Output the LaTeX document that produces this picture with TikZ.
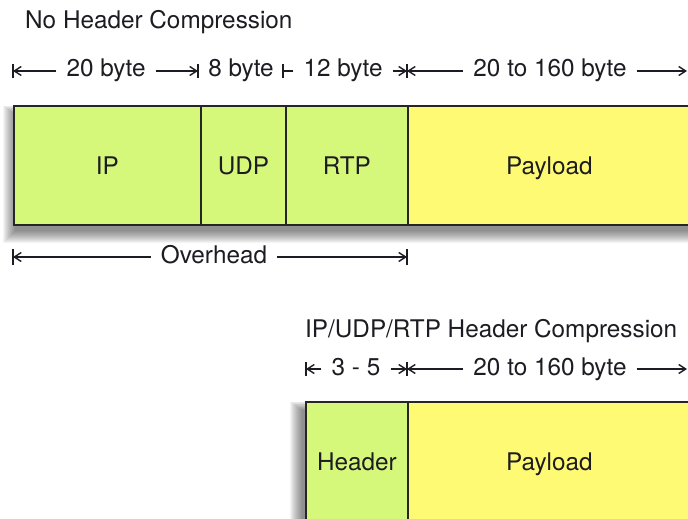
\documentclass[tikz,border=0pt]{standalone}
\usepackage{fontspec}
\setmainfont{TeX Gyre Heros}
\usetikzlibrary{arrows.meta}
\definecolor{boxgreen}{RGB}{214,248,122}
\definecolor{boxyellow}{RGB}{255,250,115}
\definecolor{ink}{RGB}{28,28,34}
\begin{document}
\begin{tikzpicture}[x=1pt,y=-1pt,
  lbl/.style={font=\fontsize{24.3}{28}\selectfont, text=ink, inner sep=0pt},
  dimtext/.style={lbl, inner xsep=10pt, anchor=base},
  titletext/.style={lbl, anchor=base west},
  cell/.style={draw=black!85, line width=1.8pt, anchor=north west, minimum height=119pt,
    lbl, text height=17.4pt, text depth=0pt},
  dimline/.style={line width=1.4pt, draw=ink},
  dimarrow/.style={dimline, -{Straight Barb[length=7pt,width=9pt,line width=1.4pt]}},
  shadowlayer/.style={fill=black, opacity=0.045},
  ]
\useasboundingbox (0,0) rectangle (688,519);
\clip (0,0) rectangle (688,519);

% ---------- titles ----------
\node[titletext] (title1) at (25,29) {No Header Compression};
\node[titletext] (title2) at (305,337) {IP/UDP/RTP Header Compression};

% ---------- coordinates of dimension ticks ----------
\coordinate (a0) at (13,71);
\coordinate (a1) at (198,71);
\coordinate (a2) at (283,71);
\coordinate (a3) at (407,71);
\coordinate (a4) at (687,71);
\coordinate (o0) at (13,257);
\coordinate (o1) at (407,257);
\coordinate (b0) at (306,369);
\coordinate (b1) at (407,369);
\coordinate (b2) at (687,369);
\coordinate (s1a) at (13,105);
\coordinate (s1b) at (690,224);
\coordinate (s2a) at (305,401);
\coordinate (s2b) at (690,520);

% ---------- shadows ----------
\foreach \i in {0,...,12}
  \fill[shadowlayer] ([shift={(2-\i,9-0.7*\i)}]s1a) rectangle ([shift={(\i,7+\i)}]s1b);
\foreach \i in {0,...,12}
  \fill[shadowlayer] ([shift={(-3-\i,9-0.7*\i)}]s2a) rectangle ([shift={(\i,7+\i)}]s2b);

% ---------- top packet ----------
\node[cell, fill=boxgreen, minimum width=187pt] (ip) at (13,105) {IP};
\node[cell, fill=boxgreen, minimum width=85pt] (udp) at (200,105) {UDP};
\node[cell, fill=boxgreen, minimum width=122pt] (rtp) at (285,105) {RTP};
\node[cell, fill=boxyellow, minimum width=283pt] (pay) at (407,105) {Payload};

% ---------- bottom packet ----------
\node[cell, fill=boxgreen, minimum width=102pt] (hdr) at (305,401) {Header};
\node[cell, fill=boxyellow, minimum width=283pt] (pay2) at (407,401) {Payload};

% ---------- row 1 dimensions ----------
\foreach \c in {a0,a1,a2,a3} \draw[dimline] ([yshift=-7]\c) -- ([yshift=7]\c);
\node[dimtext] (d20) at (106,77) {20 byte};
\node[dimtext] (d8) at (241,77) {8 byte};
\node[dimtext] (d12) at (343,77) {12 byte};
\node[dimtext] (dpl) at (550,77) {20 to 160 byte};
\draw[dimarrow] (d20.west |- a0) -- (a0);
\draw[dimarrow] (d20.east |- a1) -- (a1);
\draw[dimline] (d12.west |- a2) -- (a2);
\draw[dimarrow] (d12.east |- a3) -- (a3);
\draw[dimarrow] (dpl.west |- a3) -- (a3);
\draw[dimarrow] (dpl.east |- a4) -- (a4);

% ---------- overhead ----------
\foreach \c in {o0,o1} \draw[dimline] ([yshift=-8]\c) -- ([yshift=8]\c);
\node[dimtext] (ovh) at (214,263) {Overhead};
\draw[dimarrow] (ovh.west |- o0) -- (o0);
\draw[dimarrow] (ovh.east |- o1) -- (o1);

% ---------- row 2 dimensions ----------
\foreach \c in {b0,b1} \draw[dimline] ([yshift=-7]\c) -- ([yshift=7]\c);
\node[dimtext] (d35) at (356,375) {3 - 5};
\node[dimtext] (dpl2) at (550,375) {20 to 160 byte};
\draw[dimarrow] (d35.west |- b0) -- (b0);
\draw[dimarrow] (d35.east |- b1) -- (b1);
\draw[dimarrow] (dpl2.west |- b1) -- (b1);
\draw[dimarrow] (dpl2.east |- b2) -- (b2);
\end{tikzpicture}
\end{document}
